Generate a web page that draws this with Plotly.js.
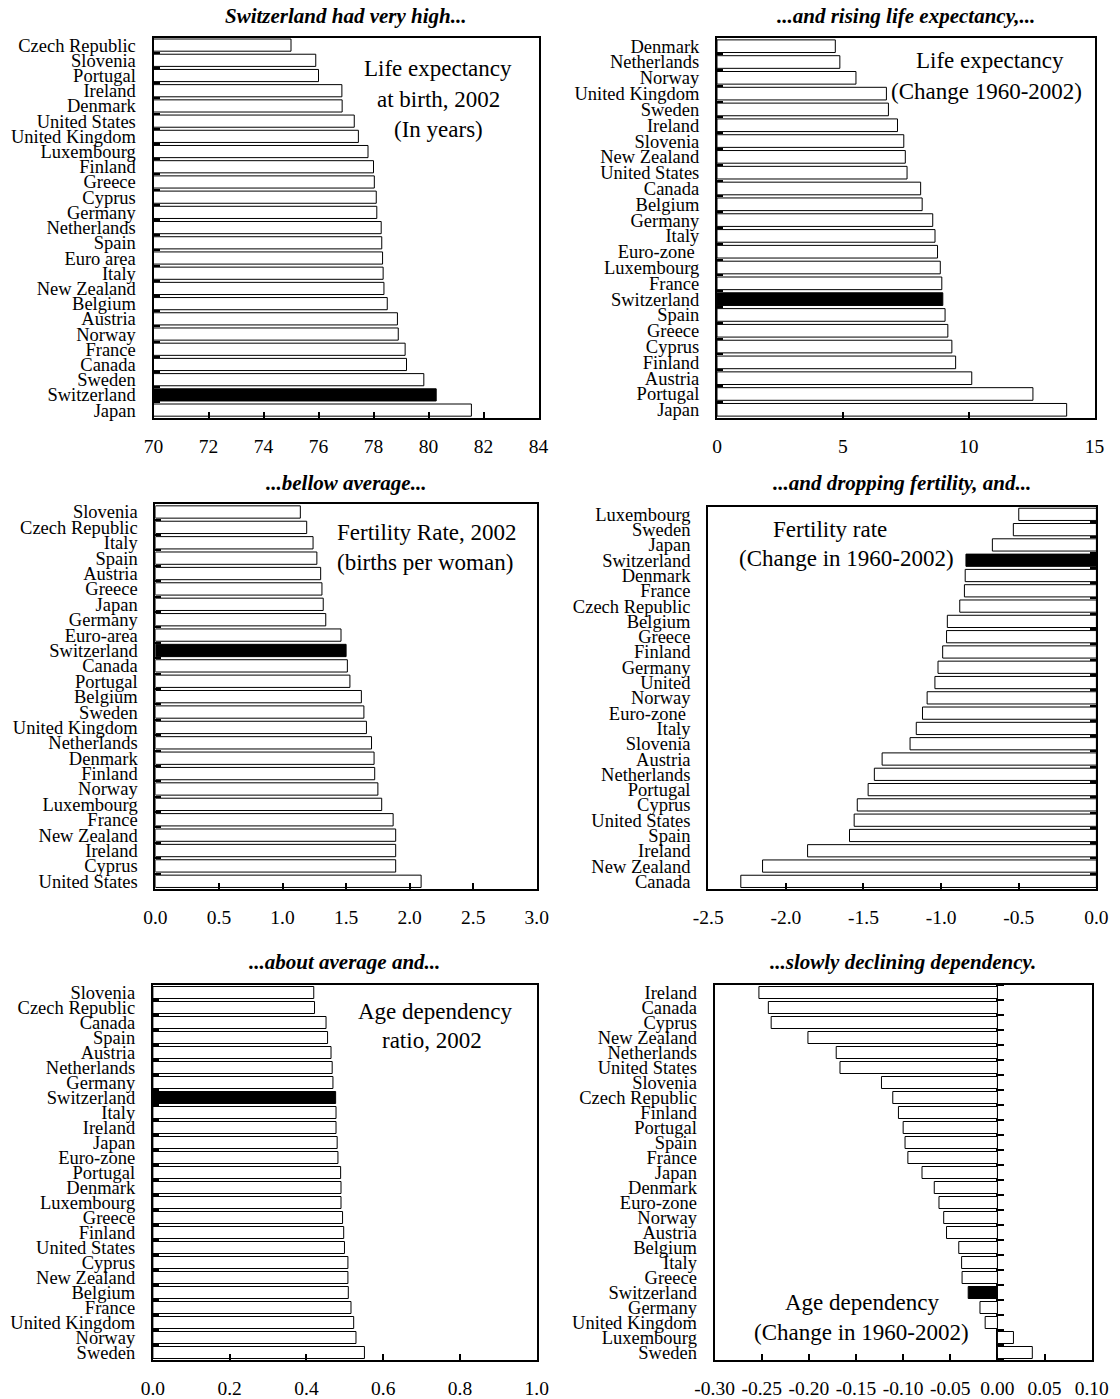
<!DOCTYPE html>
<html>
<head>
<meta charset="utf-8">
<script src="https://cdn.plot.ly/plotly-3.0.1.min.js"></script>
<style>
	body { margin: 0; background: #fff; }
	#chart { width: 1120px; height: 1399px; }
</style>
</head>
<body>
<div id="chart"></div>
<script>
// Life expectancy at birth, 2002 (years)
var le_2002_countries = ['Czech Republic', 'Slovenia', 'Portugal', 'Ireland', 'Denmark', 'United States', 'United Kingdom',
	'Luxembourg', 'Finland', 'Greece', 'Cyprus', 'Germany', 'Netherlands', 'Spain', 'Euro area', 'Italy', 'New Zealand',
	'Belgium', 'Austria', 'Norway', 'France', 'Canada', 'Sweden', 'Switzerland', 'Japan'];
var le_2002_values = [75.0, 75.9, 76.0, 76.85, 76.86, 77.3, 77.45, 77.8, 78.0, 78.03, 78.1, 78.12, 78.28, 78.3, 78.33,
	78.35, 78.38, 78.5, 78.87, 78.9, 79.15, 79.2, 79.83, 80.28, 81.56];

// Life expectancy, change 1960-2002 (years)
var le_chg_countries = ['Denmark', 'Netherlands', 'Norway', 'United Kingdom', 'Sweden', 'Ireland', 'Slovenia', 'New Zealand',
	'United States', 'Canada', 'Belgium', 'Germany', 'Italy', 'Euro-zone\u00a0', 'Luxembourg', 'France', 'Switzerland', 'Spain',
	'Greece', 'Cyprus', 'Finland', 'Austria', 'Portugal', 'Japan'];
var le_chg_values = [4.7, 4.88, 5.52, 6.73, 6.81, 7.17, 7.42, 7.48, 7.55, 8.09, 8.15, 8.57, 8.66, 8.76, 8.87, 8.93, 8.97,
	9.06, 9.17, 9.33, 9.48, 10.12, 12.55, 13.89];

// Fertility rate, 2002 (births per woman)
var fert_2002_countries = ['Slovenia', 'Czech Republic', 'Italy', 'Spain', 'Austria', 'Greece', 'Japan', 'Germany', 'Euro-area',
	'Switzerland', 'Canada', 'Portugal', 'Belgium', 'Sweden', 'United Kingdom', 'Netherlands', 'Denmark', 'Finland', 'Norway',
	'Luxembourg', 'France', 'New Zealand', 'Ireland', 'Cyprus', 'United States'];
var fert_2002_values = [1.14, 1.19, 1.24, 1.27, 1.30, 1.31, 1.32, 1.34, 1.46, 1.50, 1.51, 1.53, 1.62, 1.64, 1.66, 1.70, 1.72,
	1.725, 1.75, 1.78, 1.87, 1.89, 1.89, 1.89, 2.09];

// Fertility rate, change 1960-2002
var fert_chg_countries = ['Luxembourg', 'Sweden', 'Japan', 'Switzerland', 'Denmark', 'France', 'Czech Republic', 'Belgium',
	'Greece', 'Finland', 'Germany', 'United', 'Norway', 'Euro-zone\u00a0', 'Italy', 'Slovenia', 'Austria', 'Netherlands',
	'Portugal', 'Cyprus', 'United States', 'Spain', 'Ireland', 'New Zealand', 'Canada'];
var fert_chg_values = [-0.50, -0.535, -0.67, -0.84, -0.845, -0.85, -0.88, -0.96, -0.965, -0.99, -1.02, -1.04, -1.09, -1.12,
	-1.16, -1.20, -1.38, -1.43, -1.47, -1.54, -1.56, -1.59, -1.86, -2.15, -2.29];

// Age dependency ratio, 2002
var dep_2002_countries = ['Slovenia', 'Czech Republic', 'Canada', 'Spain', 'Austria', 'Netherlands', 'Germany', 'Switzerland',
	'Italy', 'Ireland', 'Japan', 'Euro-zone', 'Portugal', 'Denmark', 'Luxembourg', 'Greece', 'Finland', 'United States',
	'Cyprus', 'New Zealand', 'Belgium', 'France', 'United Kingdom', 'Norway', 'Sweden'];
var dep_2002_values = [0.419, 0.421, 0.451, 0.455, 0.464, 0.467, 0.469, 0.476, 0.477, 0.477, 0.480, 0.482, 0.489, 0.490,
	0.490, 0.494, 0.497, 0.499, 0.508, 0.508, 0.509, 0.516, 0.523, 0.529, 0.551];

// Age dependency ratio, change 1960-2002
var dep_chg_countries = ['Ireland', 'Canada', 'Cyprus', 'New Zealand', 'Netherlands', 'United States', 'Slovenia',
	'Czech Republic', 'Finland', 'Portugal', 'Spain', 'France', 'Japan', 'Denmark', 'Euro-zone', 'Norway', 'Austria',
	'Belgium', 'Italy', 'Greece', 'Switzerland', 'Germany', 'United Kingdom', 'Luxembourg', 'Sweden'];
var dep_chg_values = [-0.253, -0.243, -0.240, -0.201, -0.171, -0.167, -0.123, -0.111, -0.105, -0.100, -0.098, -0.095,
	-0.080, -0.067, -0.062, -0.057, -0.054, -0.041, -0.038, -0.0375, -0.031, -0.0185, -0.013, 0.017, 0.037];

var W = 1120, H = 1399;
var FONT = 'Liberation Serif, Times New Roman, serif';

// pixel -> paper helpers
function px_x(p) { return p / W; }
function px_y(p) { return 1 - p / H; }

// tick values / labels with a plain hyphen for negatives
function make_ticks(lo, hi, step, digits) {
	var vals = [], txt = [];
	var n = Math.round((hi - lo) / step);
	for (var i = 0; i <= n; i++) {
		var v = +(lo + i * step).toFixed(6);
		vals.push(v);
		txt.push(v.toFixed(digits));
	}
	return { vals: vals, txt: txt };
}

function bar_trace(countries, values, xa, ya) {
	return {
		type: 'bar',
		orientation: 'h',
		x: values,
		y: countries,
		xaxis: xa,
		yaxis: ya,
		hoverinfo: 'skip',
		showlegend: false,
		marker: {
			color: countries.map(function(c) { return c === 'Switzerland' ? '#000000' : '#ffffff'; }),
			line: { color: '#000000', width: 1 }
		}
	};
}

function x_axis(box, rng, step, digits, anchor) {
	var t = make_ticks(rng[0], rng[1], step, digits);
	return {
		domain: [px_x(box[0]), px_x(box[1])],
		anchor: anchor,
		range: rng,
		tickmode: 'array',
		tickvals: t.vals,
		ticktext: t.txt,
		ticks: 'inside',
		ticklen: 6,
		tickwidth: 2,
		tickcolor: '#000',
		ticklabelstandoff: 10,
		tickfont: { family: FONT, size: 19.5, color: '#000' },
		showline: true,
		mirror: true,
		linecolor: '#000',
		linewidth: 2,
		showgrid: false,
		zeroline: false,
		fixedrange: true
	};
}

function y_axis(box, countries, anchor, with_ticks) {
	return {
		domain: [px_y(box[3]), px_y(box[2])],
		anchor: anchor,
		type: 'category',
		categoryorder: 'array',
		categoryarray: countries,
		range: [countries.length - 0.5, -0.5],
		tickmode: 'linear',
		tick0: 0,
		dtick: 1,
		ticks: with_ticks ? 'inside' : '',
		tickson: 'boundaries',
		ticklen: 6,
		tickwidth: 2,
		tickcolor: '#000',
		ticklabelstandoff: 12,
		tickfont: { family: FONT, size: 18.5, color: '#000' },
		showline: true,
		mirror: true,
		linecolor: '#000',
		linewidth: 2,
		showgrid: false,
		zeroline: false,
		fixedrange: true
	};
}

// panel boxes in pixels: [left, right, top, bottom]
var box1 = [153.5, 538.5, 37.5, 417.7];
var box2 = [717, 1094.6, 38.3, 417.7];
var box3 = [155.4, 536.8, 504.3, 889];
var box4 = [708.2, 1096.4, 506.7, 889];
var box5 = [152.9, 536.8, 985, 1360];
var box6 = [714.6, 1091.7, 985, 1360];

var data = [
	bar_trace(le_2002_countries, le_2002_values, 'x', 'y'),
	bar_trace(le_chg_countries, le_chg_values, 'x2', 'y2'),
	bar_trace(fert_2002_countries, fert_2002_values, 'x3', 'y3'),
	bar_trace(fert_chg_countries, fert_chg_values, 'x4', 'y4'),
	bar_trace(dep_2002_countries, dep_2002_values, 'x5', 'y5'),
	bar_trace(dep_chg_countries, dep_chg_values, 'x6', 'y6'),
	// empty traces so the tick-only axes get drawn
	{ type: 'scatter', x: [], y: [], xaxis: 'x4', yaxis: 'y7', showlegend: false, hoverinfo: 'skip' },
	{ type: 'scatter', x: [], y: [], xaxis: 'x6', yaxis: 'y8', showlegend: false, hoverinfo: 'skip' }
];

var x6_range = [-0.30, 0.10];

function tick_axis(n, overlay) {
	return {
		overlaying: overlay,
		range: [n - 0.5, -0.5],
		tickmode: 'linear',
		tick0: 0.5,
		dtick: 1,
		ticklen: 6,
		tickwidth: 2,
		tickcolor: '#000',
		showticklabels: false,
		showline: false,
		showgrid: false,
		zeroline: false,
		fixedrange: true
	};
}

var y7 = tick_axis(fert_chg_countries.length, 'y4');
y7.anchor = 'x4';
y7.side = 'right';
y7.ticks = 'inside';

var y8 = tick_axis(dep_chg_countries.length, 'y6');
y8.anchor = 'free';
y8.side = 'right';
y8.ticks = 'outside';
y8.position = px_x(box6[0] + (0 - x6_range[0]) / (x6_range[1] - x6_range[0]) * (box6[1] - box6[0]));

var x6 = x_axis(box6, x6_range, 0.05, 2, 'y6');
x6.zeroline = true;
x6.zerolinecolor = '#000';
x6.zerolinewidth = 2;

function title_ann(text, box, y) {
	return {
		text: '<b><i>' + text + '</i></b>',
		xref: 'paper', yref: 'paper',
		x: px_x((box[0] + box[1]) / 2), y: px_y(y),
		xanchor: 'center', yanchor: 'middle',
		showarrow: false,
		font: { family: FONT, size: 21, color: '#000' }
	};
}

function text_ann(text, x, y) {
	return {
		text: text,
		xref: 'paper', yref: 'paper',
		x: px_x(x), y: px_y(y),
		xanchor: 'center', yanchor: 'middle',
		showarrow: false,
		font: { family: FONT, size: 23, color: '#000' }
	};
}

var layout = {
	width: W,
	height: H,
	margin: { l: 0, r: 0, t: 0, b: 0 },
	paper_bgcolor: '#fff',
	plot_bgcolor: '#fff',
	bargap: 0.2,
	showlegend: false,
	font: { family: FONT, color: '#000' },
	xaxis: x_axis(box1, [70, 84], 2, 0, 'y'),
	yaxis: y_axis(box1, le_2002_countries, 'x', true),
	xaxis2: x_axis(box2, [0, 15], 5, 0, 'y2'),
	yaxis2: y_axis(box2, le_chg_countries, 'x2', true),
	xaxis3: x_axis(box3, [0, 3], 0.5, 1, 'y3'),
	yaxis3: y_axis(box3, fert_2002_countries, 'x3', true),
	xaxis4: x_axis(box4, [-2.5, 0], 0.5, 1, 'y4'),
	yaxis4: y_axis(box4, fert_chg_countries, 'x4', false),
	xaxis5: x_axis(box5, [0, 1], 0.2, 1, 'y5'),
	yaxis5: y_axis(box5, dep_2002_countries, 'x5', true),
	xaxis6: x6,
	yaxis6: y_axis(box6, dep_chg_countries, 'x6', false),
	yaxis7: y7,
	yaxis8: y8,
	annotations: [
		title_ann('Switzerland had very high...', box1, 16),
		title_ann('...and rising life expectancy,...', box2, 16),
		title_ann('...bellow average...', box3, 483),
		title_ann('...and dropping fertility, and...', box4, 483),
		title_ann('...about average and...', box5, 962),
		title_ann('...slowly declining dependency.', box6, 962),
		text_ann('Life expectancy', 438, 68),
		text_ann('at birth, 2002', 438, 100),
		text_ann('(In years)', 438, 129),
		text_ann('Life expectancy', 990, 61),
		text_ann('(Change 1960-2002)', 986, 91),
		text_ann('Fertility Rate, 2002', 427, 533),
		text_ann('(births per woman)', 425, 562),
		text_ann('Fertility rate', 830, 529),
		text_ann('(Change in 1960-2002)', 846, 559),
		text_ann('Age dependency', 435, 1012),
		text_ann('ratio, 2002', 432, 1040),
		text_ann('Age dependency', 862, 1302),
		text_ann('(Change in 1960-2002)', 861, 1332)
	]
};

Plotly.newPlot('chart', data, layout, { staticPlot: true, displayModeBar: false });
</script>
</body>
</html>
